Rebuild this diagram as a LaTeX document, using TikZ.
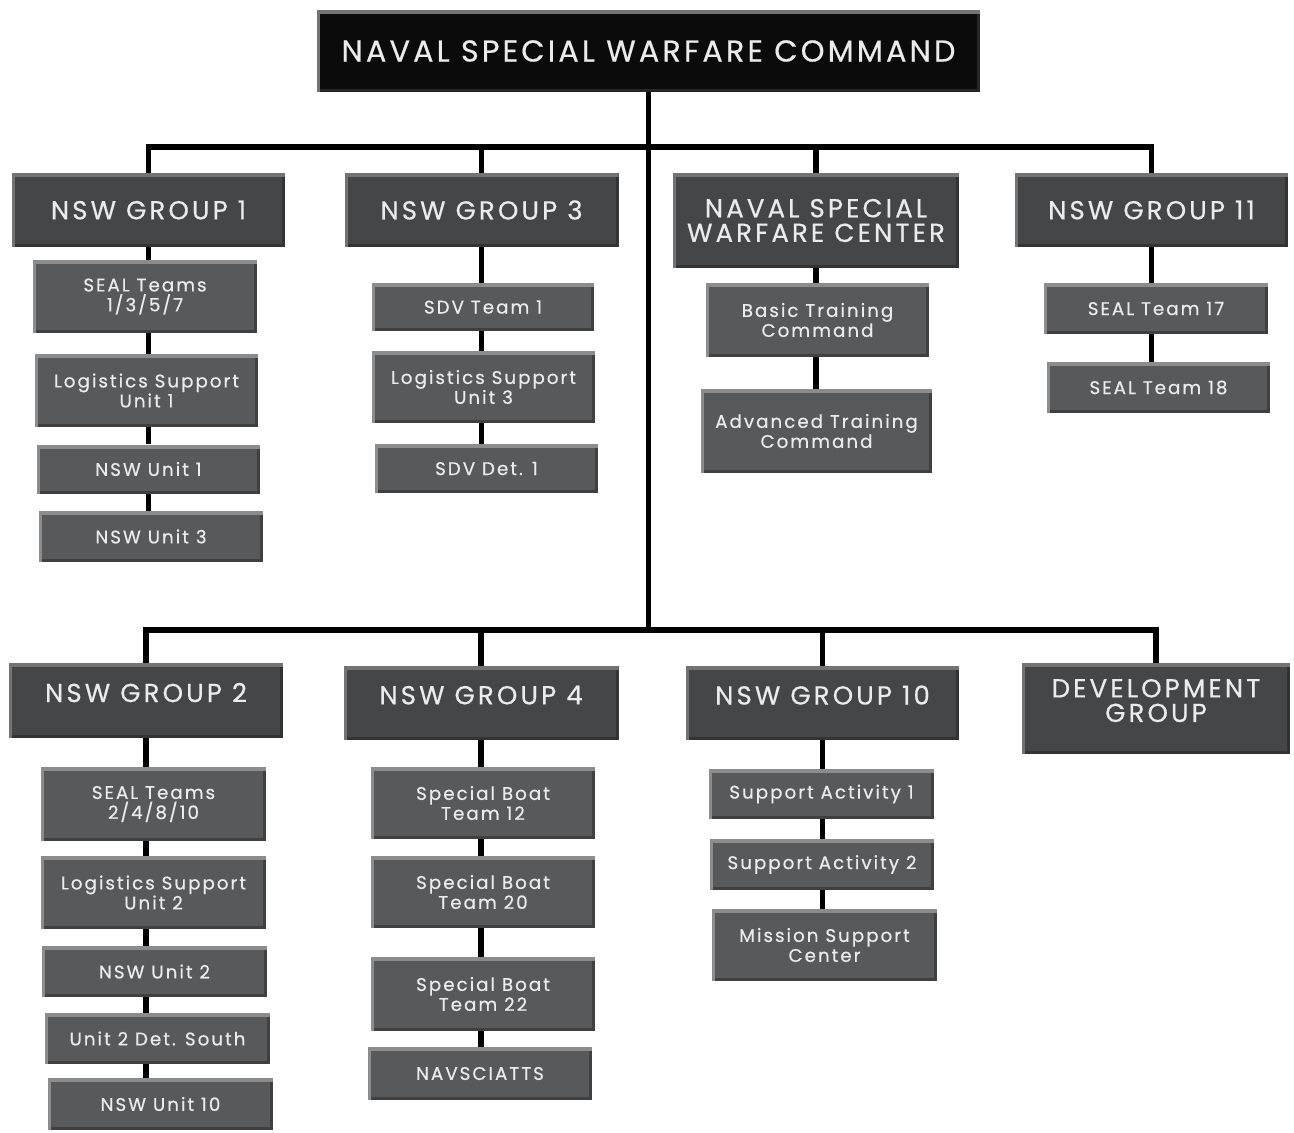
\documentclass[tikz,border=0pt]{standalone}
\usepackage{fontspec}
\newfontfamily\hqfont{Poppins}[LetterSpace=10.5, FakeBold=0.5]
\newfontfamily\grpfont{Poppins}[LetterSpace=12, FakeBold=0.5]
\newfontfamily\unitfont{Poppins}[LetterSpace=11, FakeBold=0.5]
\usetikzlibrary{positioning}

\newcommand{\pxl}{0.25mm}
\definecolor{hqblack}{HTML}{0B0B0B}
\definecolor{grpgray}{HTML}{454648}
\definecolor{unitgray}{HTML}{58595B}
\definecolor{labelwhite}{HTML}{EBEBEB}

\begin{document}
\begin{tikzpicture}[x=\pxl, y=-\pxl,
    every node/.style={inner sep=0pt, align=center, text=labelwhite},
    wh/.style 2 args={minimum width=#1*\pxl, minimum height=#2*\pxl},
    bevel/.style 2 args={path picture={
        \fill[#2] ([yshift=3*\pxl]path picture bounding box.south west) rectangle (path picture bounding box.south east);
        \fill[#2] ([xshift=-3*\pxl]path picture bounding box.north east) rectangle (path picture bounding box.south east);
        \fill[#1] (path picture bounding box.north west) rectangle ([yshift=-4*\pxl]path picture bounding box.north east);
        \fill[#1] (path picture bounding box.north west) rectangle ([xshift=3*\pxl]path picture bounding box.south west);
    }},
    hqbox/.style={rectangle, fill=hqblack, bevel={black!55}{black!85},
        font=\hqfont\fontsize{21.5}{25}\selectfont},
    grpbox/.style={rectangle, fill=grpgray, bevel={black!55}{black!80},
        font=\grpfont\fontsize{18.5}{17.5}\selectfont},
    raised/.style={text depth=4mm},
    unitbox/.style={rectangle, fill=unitgray, bevel={black!45}{black!75},
        font=\unitfont\fontsize{13}{14.2}\selectfont},
    link/.style={line width=1.4mm, black}]

    \useasboundingbox (0,0) rectangle (1294,1132);

    % Command at the top
    \node[hqbox, wh={663}{82}] (hq) at (648.5,51) {NAVAL SPECIAL WARFARE COMMAND};

    % Upper row of groups
    \node[grpbox, wh={273}{74}] (g1) at (148.5,210) {NSW GROUP 1};
    \node[grpbox, wh={274}{74}] (g3) at (481.5,210) {NSW GROUP 3};
    \node[grpbox, wh={286}{95}] (nswc) at (816,220.5) {NAVAL SPECIAL\\WARFARE CENTER};
    \node[grpbox, wh={273}{74}] (g11) at (1151.5,210) {NSW GROUP 11};

    % NSW Group 1 units
    \node[unitbox, wh={224}{73}] (seal1) at (145,296.5) {SEAL Teams\\1/3/5/7};
    \node[unitbox, wh={223}{73}] (lsu1) at (146.5,390.5) {Logistics Support\\Unit 1};
    \node[unitbox, wh={223}{49}] (nswu1) at (148.5,469) {NSW Unit 1};
    \node[unitbox, wh={224}{51}] (nswu3) at (151,536.5) {NSW Unit 3};

    % NSW Group 3 units
    \node[unitbox, wh={222}{48}] (sdv1) at (483,307) {SDV Team 1};
    \node[unitbox, wh={223}{72}] (lsu3) at (483.5,387) {Logistics Support\\Unit 3};
    \node[unitbox, wh={223}{49}] (sdvdet1) at (486.5,468.5) {SDV Det. 1};

    % Warfare center commands
    \node[unitbox, wh={223}{74}] (btc) at (817.5,320) {Basic Training\\Command};
    \node[unitbox, wh={231}{84}] (atc) at (816.5,431) {Advanced Training\\Command};

    % NSW Group 11 units
    \node[unitbox, wh={224}{51}] (st17) at (1156,308.5) {SEAL Team 17};
    \node[unitbox, wh={223}{51}] (st18) at (1158.5,387.5) {SEAL Team 18};

    % Lower row of groups
    \node[grpbox, raised, wh={274}{75}] (g2) at (146,700.5) {NSW GROUP 2};
    \node[grpbox, raised, wh={275}{74}] (g4) at (481,703) {NSW GROUP 4};
    \node[grpbox, raised, wh={273}{74}] (g10) at (822.5,703) {NSW GROUP 10};
    \node[grpbox, raised, wh={268}{91}] (devgru) at (1156,708.5) {DEVELOPMENT\\GROUP};

    % NSW Group 2 units
    \node[unitbox, wh={225}{74}] (seal2) at (153.5,804) {SEAL Teams\\2/4/8/10};
    \node[unitbox, wh={225}{73}] (lsu2) at (153.5,892.5) {Logistics Support\\Unit 2};
    \node[unitbox, wh={225}{51}] (nswu2) at (154.5,971.5) {NSW Unit 2};
    \node[unitbox, wh={225}{51}] (det2) at (157.5,1038.5) {Unit 2 Det. South};
    \node[unitbox, wh={225}{52}] (nswu10) at (160.5,1104) {NSW Unit 10};

    % NSW Group 4 units
    \node[unitbox, wh={224}{72}] (sbt12) at (483,803) {Special Boat\\Team 12};
    \node[unitbox, wh={224}{72}] (sbt20) at (483,892) {Special Boat\\Team 20};
    \node[unitbox, wh={224}{74}] (sbt22) at (483,994) {Special Boat\\Team 22};
    \node[unitbox, wh={224}{53}] (navs) at (480,1073.5) {NAVSCIATTS};

    % NSW Group 10 units
    \node[unitbox, wh={225}{50}] (sa1) at (821.5,794) {Support Activity 1};
    \node[unitbox, wh={224}{51}] (sa2) at (822,864.5) {Support Activity 2};
    \node[unitbox, wh={225}{72}] (msc) at (824.5,945) {Mission Support\\Center};

    % Trunk and the two buses
    \coordinate (bustop) at (650,147);
    \coordinate (busbot) at (650,630);
    \draw[link] (hq.south) -- (hq.south |- busbot);
    \draw[link] (g1.north) |- (bustop) -| (g11.north);
    \draw[link] (g2.north) |- (busbot) -| (devgru.north);
    \foreach \grp in {g3, nswc} {
        \draw[link] (\grp.north) -- (\grp.north |- bustop);
    }
    \foreach \grp in {g4, g10} {
        \draw[link] (\grp.north) -- (\grp.north |- busbot);
    }

    % Links down each column
    \foreach \a/\b in {g1/seal1, seal1/lsu1, lsu1/nswu1, nswu1/nswu3} {
        \draw[link] (g1.south |- \a.south) -- (g1.south |- \b.north);
    }
    \foreach \a/\b in {g3/sdv1, sdv1/lsu3, lsu3/sdvdet1} {
        \draw[link] (g3.south |- \a.south) -- (g3.south |- \b.north);
    }
    \foreach \a/\b in {nswc/btc, btc/atc} {
        \draw[link] (nswc.south |- \a.south) -- (nswc.south |- \b.north);
    }
    \foreach \a/\b in {g11/st17, st17/st18} {
        \draw[link] (g11.south |- \a.south) -- (g11.south |- \b.north);
    }
    \foreach \a/\b in {g2/seal2, seal2/lsu2, lsu2/nswu2, nswu2/det2, det2/nswu10} {
        \draw[link] (g2.south |- \a.south) -- (g2.south |- \b.north);
    }
    \foreach \a/\b in {g4/sbt12, sbt12/sbt20, sbt20/sbt22, sbt22/navs} {
        \draw[link] (g4.south |- \a.south) -- (g4.south |- \b.north);
    }
    \foreach \a/\b in {g10/sa1, sa1/sa2, sa2/msc} {
        \draw[link] (g10.south |- \a.south) -- (g10.south |- \b.north);
    }
\end{tikzpicture}
\end{document}
